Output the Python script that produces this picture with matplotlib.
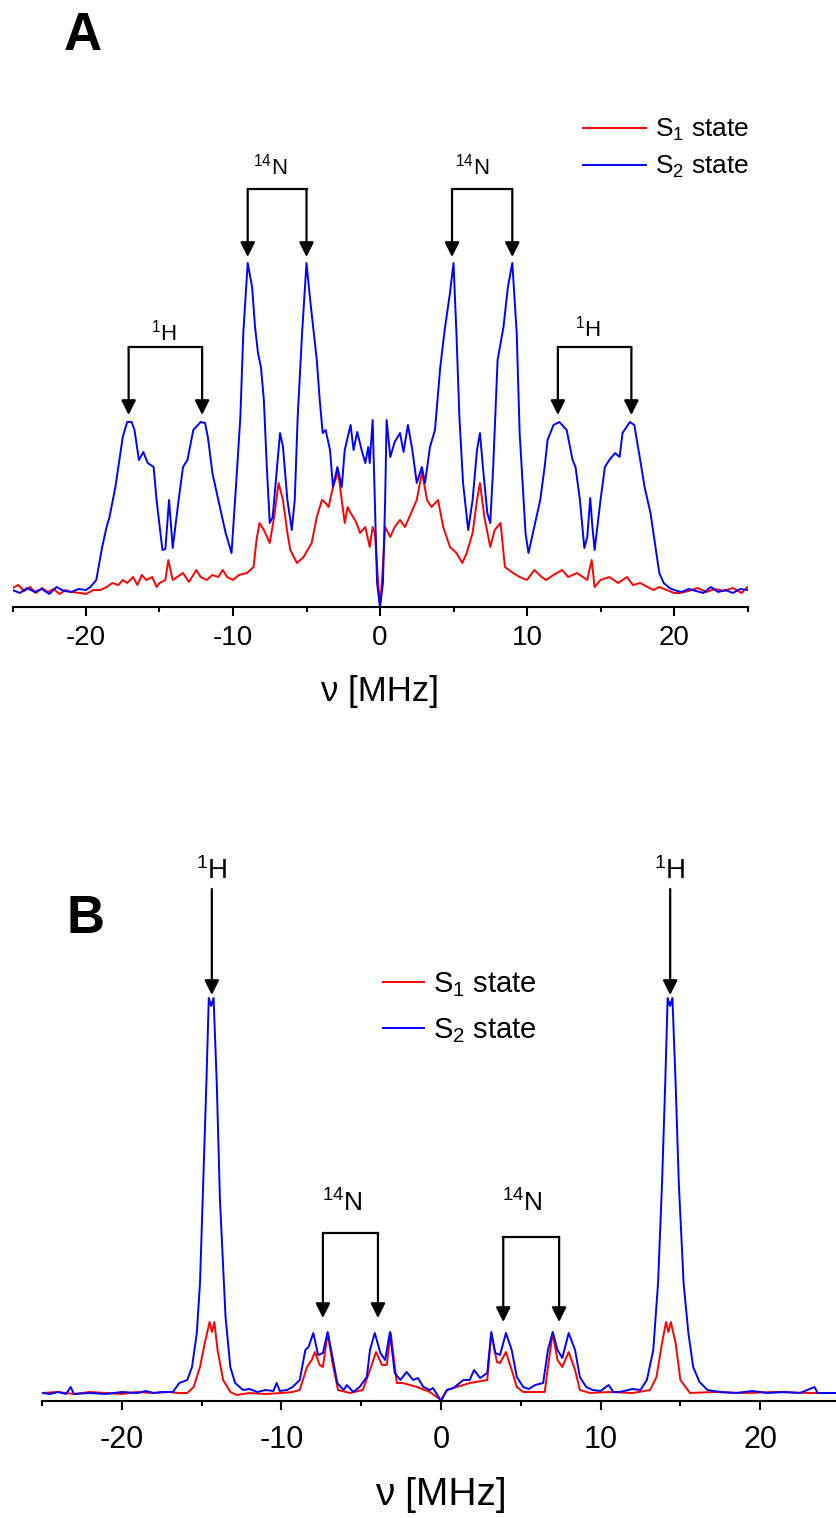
import numpy as np
import matplotlib
matplotlib.use("Agg")
import matplotlib.pyplot as plt
from matplotlib.ticker import MultipleLocator

plt.rcParams["font.family"] = ["Liberation Sans", "DejaVu Sans"]
plt.rcParams["mathtext.fontset"] = "custom"
plt.rcParams["mathtext.rm"] = "Liberation Sans"
plt.rcParams["mathtext.it"] = "Liberation Sans:italic"
plt.rcParams["mathtext.bf"] = "Liberation Sans:bold"
plt.rcParams["axes.unicode_minus"] = False

# ---- panel A data (frequency in MHz, intensity in arbitrary units) ----
a_s2_x = [-25, -24.5, -24, -23.5, -23, -22.5, -22, -21.5, -21, -20.5, -20, -19.7, -19.3, -18.9,
          -18.6, -18.4, -18.0, -17.8, -17.5, -17.2, -16.9, -16.7, -16.4, -16.1, -15.8, -15.4,
          -15.2, -14.8, -14.6, -14.35, -14.1, -13.7, -13.4, -13.1, -12.7, -12.2, -11.9, -11.7,
          -11.4, -11.0, -10.5, -10.1, -9.8, -9.5, -9.3, -9.0, -8.7, -8.5, -8.3, -8.1, -7.9,
          -7.7, -7.5, -7.3, -7.0, -6.8, -6.6, -6.3, -6.0, -5.8, -5.6, -5.3, -5.0, -4.75, -4.5,
          -4.3, -4.1, -3.9, -3.7, -3.4, -3.2, -2.9, -2.6, -2.4, -2.0, -1.8, -1.55, -1.25, -1.0,
          -0.8, -0.7, -0.5, -0.35, -0.2, 0, 0.2, 0.35, 0.45, 0.7, 1.0, 1.36, 1.6, 1.9, 2.2, 2.5,
          2.85, 3.06, 3.4, 3.74, 4.1, 4.4, 4.76, 5.0, 5.2, 5.4, 5.65, 6.0, 6.3, 6.6, 6.8, 7.0,
          7.3, 7.5, 7.7, 8.0, 8.4, 8.7, 9.0, 9.3, 9.5, 9.9, 10.1, 10.4, 10.9, 11.2, 11.4, 11.8,
          12.2, 12.7, 13.1, 13.3, 13.6, 13.9, 14.1, 14.3, 14.45, 14.6, 15.0, 15.3, 15.6, 16.0,
          16.3, 16.5, 17.0, 17.3, 17.7, 18.0, 18.4, 18.7, 19.0, 19.3, 19.7, 20.0, 20.5, 21.0,
          21.5, 22.0, 22.5, 23.0, 23.5, 24.0, 24.5, 25]
a_s2_y = [17, 14, 19, 15, 18, 13, 20, 16, 15, 18, 17, 20, 27, 60,
          80, 90, 120, 140, 170, 185, 185, 177, 147, 155, 144, 140,
          107, 57, 58, 107, 59, 107, 140, 147, 177, 185, 184, 169,
          134, 107, 74, 54, 120, 190, 274, 344, 320, 280, 254, 240, 207,
          140, 84, 90, 140, 174, 160, 107, 77, 107, 190, 274, 344, 307, 274,
          247, 207, 174, 177, 157, 120, 140, 120, 157, 182, 157, 175, 157, 144,
          160, 144, 187, 107, 24, 0, 24, 107, 187, 150, 165, 174, 155, 182, 157, 124,
          140, 124, 160, 177, 240, 277, 314, 344, 274, 190, 124, 77, 107, 157, 174, 140,
          94, 84, 140, 247, 280, 320, 344, 274, 174, 74, 54, 74, 107, 140, 167, 182,
          185, 177, 147, 140, 107, 59, 70, 109, 80, 57, 107, 140, 147, 154,
          150, 174, 185, 182, 147, 120, 94, 64, 34, 24, 19, 17, 15, 18,
          16, 14, 20, 15, 17, 14, 18, 17]

a_s1_x = [-25, -24.6, -24.2, -23.8, -23.4, -23, -22.6, -22.2, -21.8, -21.4, -21, -20.4, -20,
          -19.5, -19, -18.6, -18.2, -17.8, -17.5, -17.2, -16.8, -16.5, -16.2, -15.9, -15.5,
          -15.2, -15, -14.6, -14.4, -14.1, -13.8, -13.4, -13.0, -12.7, -12.5, -12.2, -11.8,
          -11.4, -11.0, -10.7, -10.4, -10, -9.6, -9.05, -8.6, -8.4, -8.2, -7.9, -7.5, -7.2,
          -6.9, -6.6, -6.3, -6.1, -5.65, -5.2, -4.65, -4.3, -3.95, -3.7, -3.5, -3.2, -2.85,
          -2.6, -2.4, -2.2, -2.0, -1.7, -1.5, -1.36, -1.0, -0.7, -0.5, -0.35, -0.15, 0, 0.15,
          0.35, 0.7, 1.0, 1.36, 1.7, 2.0, 2.5, 2.86, 3.2, 3.5, 3.95, 4.3, 4.76, 5.2, 5.6, 5.9,
          6.3, 6.6, 6.8, 7.1, 7.5, 7.8, 8.2, 8.5, 9.05, 9.5, 10.0, 10.5, 11.0, 11.3, 11.8,
          12.4, 12.8, 13.4, 13.8, 14.1, 14.4, 14.6, 15.0, 15.6, 16.2, 16.8, 17.2, 17.7, 18.2,
          18.6, 19.0, 19.5, 20.0, 20.4, 21.0, 21.6, 22.2, 22.8, 23.4, 24.0, 24.6, 25]
a_s1_y = [19, 22, 16, 20, 14, 19, 15, 18, 13, 17, 15, 14, 13,
          17, 17, 20, 24, 22, 27, 24, 30, 22, 32, 27, 30,
          20, 24, 27, 47, 27, 30, 34, 25, 32, 37, 30, 27,
          32, 30, 37, 30, 27, 32, 34, 40, 67, 84, 77, 64, 90,
          124, 107, 74, 57, 44, 50, 64, 90, 107, 104, 100, 120, 135,
          107, 84, 100, 94, 87, 80, 74, 80, 60, 80, 74, 30, 0, 30,
          80, 70, 80, 87, 80, 90, 107, 135, 107, 100, 107, 80, 60, 54, 44, 54,
          74, 107, 124, 90, 60, 77, 84, 40, 34, 30, 27, 37, 30, 27, 32,
          37, 30, 34, 30, 27, 47, 20, 27, 30, 24, 30, 22, 24, 20,
          17, 20, 17, 14, 14, 16, 19, 15, 18, 16, 19, 14, 20]

# ---- panel B data ----
b_s2_x = [-25, -24.5, -24, -23.5, -23.2, -23.0, -22, -21, -20, -19, -18.5, -18, -17.5, -16.8,
          -16.4, -15.9, -15.6, -15.3, -15.1, -14.9, -14.7, -14.55, -14.4, -14.25, -14.05,
          -13.85, -13.5, -13.2, -12.9, -12.4, -12, -11.5, -11, -10.5, -10.3, -10.1, -9.65,
          -9.3, -8.85, -8.5, -8.3, -8.0, -7.7, -7.4, -7.1, -6.8, -6.5, -6.1, -5.9, -5.5, -5.1,
          -4.65, -4.45, -4.15, -3.8, -3.5, -3.2, -2.9, -2.55, -2.15, -1.75, -1.45, -1.1, -0.7,
          -0.5, 0, 0.37, 0.78, 1.4, 1.8, 2.07, 2.45, 2.9, 3.15, 3.4, 3.7, 4.07, 4.43, 4.75,
          5.15, 5.5, 5.9, 6.4, 6.7, 7.0, 7.3, 7.6, 8.0, 8.4, 8.7, 9.1, 9.5, 10.0, 10.5, 10.8,
          11.2, 12.0, 12.5, 12.9, 13.3, 13.6, 13.85, 14.05, 14.2, 14.35, 14.5, 14.7, 14.9,
          15.2, 15.5, 15.8, 16.2, 16.7, 17.5, 18.5, 19.5, 20.5, 21.5, 22.5, 23.4, 23.6, 25]
b_s2_y = [8, 7, 9, 7, 14, 7, 8, 7, 9, 8, 10, 8, 9, 9,
          18, 21, 34, 68, 118, 218, 318, 403, 395, 403, 318,
          201, 84, 34, 18, 11, 12, 9, 11, 10, 18, 10, 11,
          14, 21, 51, 54, 68, 46, 48, 69, 44, 18, 11, 16, 9, 14,
          24, 51, 68, 48, 41, 69, 28, 21, 29, 21, 23, 14, 11,
          13, 0, 11, 13, 21, 21, 31, 23, 28, 69, 48, 46, 68, 51, 24,
          14, 12, 16, 18, 51, 69, 51, 43, 68, 51, 24, 14, 11, 10, 16, 9,
          9, 12, 11, 21, 51, 118, 218, 318, 403, 395, 403, 318, 218,
          118, 68, 34, 19, 11, 9, 8, 10, 8, 9, 8, 14, 8, 8]

b_s1_x = [-25, -24, -23, -22, -21, -20, -19, -18, -17, -16.5, -15.9, -15.5, -15.1, -14.8,
          -14.5, -14.35, -14.2, -14.0, -13.65, -13.2, -12.8, -12, -11, -10, -9.3, -8.85,
          -8.4, -8.1, -7.9, -7.6, -7.4, -7.1, -6.8, -6.45, -5.7, -4.9, -4.45, -4.07, -3.7,
          -3.4, -3.15, -2.77, -2.4, -1.5, -0.7, 0, 0.37, 1.8, 2.9, 3.15, 3.5, 3.7, 4.07,
          4.43, 4.75, 5.15, 6.5, 6.7, 7.0, 7.3, 7.6, 8.0, 8.4, 8.7, 9.35, 10.5, 12, 13.1,
          13.5, 13.85, 14.1, 14.25, 14.4, 14.7, 15.0, 15.6, 17, 19, 21, 23, 25]
b_s1_y = [8, 9, 7, 9, 8, 7, 9, 8, 9, 8, 8, 14, 34, 58,
          79, 69, 79, 51, 21, 9, 6, 8, 7, 8, 9, 11,
          34, 41, 49, 36, 34, 68, 38, 11, 8, 11, 31, 49, 36,
          36, 68, 18, 18, 14, 9, 1, 11, 18, 21, 68, 39, 38, 49,
          31, 14, 9, 9, 34, 68, 41, 34, 49, 31, 11, 8, 9, 8, 11,
          24, 58, 79, 69, 79, 58, 21, 8, 9, 8, 9, 8, 8]

# bracket marks: (x positions of the two arrows, bracket top, arrow tip)
a_brackets = [(-17.1, -12.1, 260, 192), (-9.0, -5.0, 418, 350),
              (4.9, 9.0, 418, 350), (12.1, 17.1, 260, 192)]
a_bracket_text = [(-14.7, 267, "$^{1}$H"), (-7.5, 433, "$^{14}$N"),
                  (6.3, 433, "$^{14}$N"), (14.15, 270, "$^{1}$H")]
b_brackets = [(-7.4, -3.95, 168, 83), (3.9, 7.4, 164, 79)]
b_bracket_text = [(-6.2, 189, "$^{14}$N"), (5.1, 189, "$^{14}$N")]
b_single = [(-14.36, 512, 406), (14.36, 512, 406)]
b_single_text = [(-14.36, 522, "$^{1}$H"), (14.36, 522, "$^{1}$H")]

W, H = 836, 1518
fig = plt.figure(figsize=(W / 100, H / 100), dpi=100)

axA = fig.add_axes([12.5 / W, 1 - 607 / H, 735 / W, 507 / H])
axB = fig.add_axes([42 / W, 1 - 1401 / H, 798 / W, 551 / H])


def style_axis(ax, ymax, tick_fs, tick_pad, label_fs, labelpad):
    ax.set_xlim(-25, 25)
    ax.set_ylim(0, ymax)
    for s in ["top", "right", "left"]:
        ax.spines[s].set_visible(False)
    ax.spines["bottom"].set_linewidth(1.5)
    ax.set_yticks([])
    ax.xaxis.set_major_locator(MultipleLocator(10))
    ax.xaxis.set_minor_locator(MultipleLocator(5))
    ax.tick_params(axis="x", which="major", direction="out", length=6.5, width=1.5,
                   labelsize=tick_fs, pad=tick_pad)
    ax.tick_params(axis="x", which="minor", direction="out", length=3.6, width=1.5)
    ax.set_xlabel("ν [MHz]", fontsize=label_fs, labelpad=labelpad)
    ax.patch.set_alpha(0)


def arrow(ax, x, top, tip):
    ax.annotate("", xy=(x, tip), xytext=(x, top),
                arrowprops=dict(arrowstyle="-|>", color="k", lw=1.6,
                                mutation_scale=22, shrinkA=0, shrinkB=0))


style_axis(axA, 507, 20, 6.5, 25, 17)
axA.plot(a_s1_x, a_s1_y, color="#ff0000", lw=1.4, label="S$_1$ state")
axA.plot(a_s2_x, a_s2_y, color="#0000ff", lw=1.4, label="S$_2$ state")
for x1, x2, top, tip in a_brackets:
    axA.plot([x1, x2], [top, top], color="k", lw=1.6, solid_capstyle="projecting")
    arrow(axA, x1, top, tip)
    arrow(axA, x2, top, tip)
for x, y, t in a_bracket_text:
    axA.text(x, y, t, ha="center", va="baseline", fontsize=16)
axA.legend(loc="upper left", bbox_to_anchor=(583 / W, 1 - 117 / H),
           bbox_transform=fig.transFigure, frameon=False, fontsize=19,
           handlelength=2.4, handletextpad=0.34, labelspacing=0.4,
           borderpad=0, borderaxespad=0)

style_axis(axB, 551, 22, 10.5, 28, 16)
axB.plot(b_s1_x, b_s1_y, color="#ff0000", lw=1.4, label="S$_1$ state")
axB.plot(b_s2_x, b_s2_y, color="#0000ff", lw=1.4, label="S$_2$ state")
for x1, x2, top, tip in b_brackets:
    axB.plot([x1, x2], [top, top], color="k", lw=1.6, solid_capstyle="projecting")
    arrow(axB, x1, top, tip)
    arrow(axB, x2, top, tip)
for x, y, t in b_bracket_text:
    axB.text(x, y, t, ha="center", va="baseline", fontsize=19)
for x, top, tip in b_single:
    arrow(axB, x, top, tip)
for x, y, t in b_single_text:
    axB.text(x, y, t, ha="center", va="baseline", fontsize=20)
axB.legend(loc="upper left", bbox_to_anchor=(383 / W, 1 - 970 / H),
           bbox_transform=fig.transFigure, frameon=False, fontsize=21,
           handlelength=1.4, handletextpad=0.3, labelspacing=0.6,
           borderpad=0, borderaxespad=0)

fig.text(83 / W, 1 - 50 / H, "A", fontsize=38, fontweight="bold", ha="center", va="baseline")
fig.text(86 / W, 1 - 933 / H, "B", fontsize=38, fontweight="bold", ha="center", va="baseline")

fig.savefig("out.png", dpi=100)
